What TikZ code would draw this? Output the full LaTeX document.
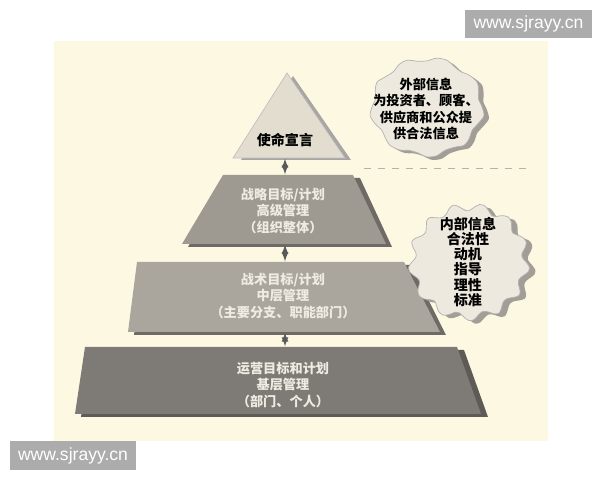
\documentclass[tikz,border=0pt]{standalone}
\usepackage{fontspec}
\newfontfamily\cjk{Noto Sans CJK SC}
\setsansfont{Liberation Sans}
\usetikzlibrary{calc}
\usetikzlibrary{shapes}
\usetikzlibrary{arrows}

\definecolor{paper}{HTML}{FCF8E1}
\definecolor{apexfill}{HTML}{E2DDCF}
\definecolor{highfill}{HTML}{9E9991}
\definecolor{midfill}{HTML}{ABA69D}
\definecolor{lowfill}{HTML}{7E7A75}
\definecolor{tiershade}{HTML}{6E6A65}
\definecolor{cloudfill}{HTML}{EDE9DE}
\definecolor{cloudshade}{HTML}{A29E97}
\definecolor{tiertext}{HTML}{EFEBE2}

\begin{document}
\begin{tikzpicture}[x=0.02cm, y=-0.02cm,
  tierlabel/.style={text=tiertext, align=center, font=\cjk\bfseries\fontsize{7.5}{9.5}\selectfont},
  bubbletext/.style={align=center, inner sep=0pt, font=\cjk\bfseries\fontsize{7.5}{9.2}\selectfont},
  link/.style={latex-latex, draw=gray!70!black, thick, shorten >=0.3pt, shorten <=0.3pt}]
\useasboundingbox (0,0) rectangle (600,480);
\fill [white] (0,0) rectangle (600,480);
\fill [paper] (54,41) rectangle (548,441);

% pyramid: shadows first
\fill [tiershade!60] (293,76) -- (351,160) -- (241,160) -- cycle;
\fill [tiershade] (229,178) -- (360,178) -- (392,247) -- (188,247) -- cycle;
\fill [tiershade] (143,265) -- (411,265) -- (446,335) -- (134,335) -- cycle;
\fill [tiershade!85!black] (91,350) -- (464,350) -- (488,417) -- (81,417) -- cycle;

\fill [apexfill, draw=gray!50] (287,73) -- (345,158) -- (233,158) -- cycle;
\fill [highfill] (223,175) -- (353,175) -- (386,244) -- (182,244) -- cycle;
\fill [midfill] (137,262) -- (404,262) -- (440,332) -- (128,332) -- cycle;
\fill [lowfill] (85,347) -- (457,347) -- (481,414) -- (75,414) -- cycle;

\coordinate (A1) at (285,158);
\coordinate (H0) at (285,175);
\coordinate (H1) at (285,244);
\coordinate (M0) at (285,262);
\coordinate (M1) at (285,332);
\coordinate (L0) at (285,347);

\node (Mission) at (285,140) [align=center, font=\cjk\bfseries\fontsize{8}{10}\selectfont] {使命宣言};
\node (High) at (283,211) [tierlabel] {战略目标/计划\\高级管理\\（组织整体）};
\node (Mid) at (283,296) [tierlabel] {战术目标/计划\\中层管理\\（主要分支、职能部门）};
\node (Low) at (283,385) [tierlabel] {运营目标和计划\\基层管理\\（部门、个人）};

\draw [link] (A1) -- (H0);
\draw [link] (H1) -- (M0);
\draw [link] (M1) -- (L0);

% information clouds
\fill [cloudshade] plot [smooth cycle, domain=0:350, samples=36, variable=\t]
  ({432+55*(1+0.05*sin(9*\t))*cos(\t)}, {110+48*(1+0.05*sin(9*\t+40))*sin(\t)});
\filldraw [fill=cloudfill, draw=gray!60] plot [smooth cycle, domain=0:350, samples=36, variable=\t]
  ({427+55*(1+0.05*sin(9*\t))*cos(\t)}, {107+48*(1+0.05*sin(9*\t+40))*sin(\t)});
\fill [cloudshade] plot [smooth cycle, domain=0:355, samples=72, variable=\t]
  ({475+57*(1+0.07*sin(13*\t))*cos(\t)}, {265+55*(1+0.07*sin(13*\t+20))*sin(\t)});
\filldraw [fill=cloudfill, draw=gray!60] plot [smooth cycle, domain=0:355, samples=72, variable=\t]
  ({469+57*(1+0.07*sin(13*\t))*cos(\t)}, {262+55*(1+0.07*sin(13*\t+20))*sin(\t)});

\node (Outside) at (426,109) [bubbletext] {外部信息\\为投资者、顾客、\\供应商和公众提\\供合法信息};
\node (Inside) at (468,262) [bubbletext, font=\cjk\bfseries\fontsize{8}{8.6}\selectfont] {内部信息\\合法性\\动机\\指导\\理性\\标准};

\coordinate (D0) at (364,168);
\coordinate (D1) at (526,168);
\draw [gray!60, dashed, dash pattern=on 4pt off 4pt] (D0) -- (D1);

% watermarks
\node (Mark1) at (528.5,24) [fill=gray!65, text=white, minimum width=2.54cm, minimum height=0.58cm, inner sep=0pt, font=\sffamily\fontsize{10}{12}\selectfont] {www.sjrayy.cn};
\node (Mark2) at (73,455.5) [fill=gray!65, text=white, minimum width=2.52cm, minimum height=0.58cm, inner sep=0pt, font=\sffamily\fontsize{10}{12}\selectfont] {www.sjrayy.cn};
\end{tikzpicture}
\end{document}
